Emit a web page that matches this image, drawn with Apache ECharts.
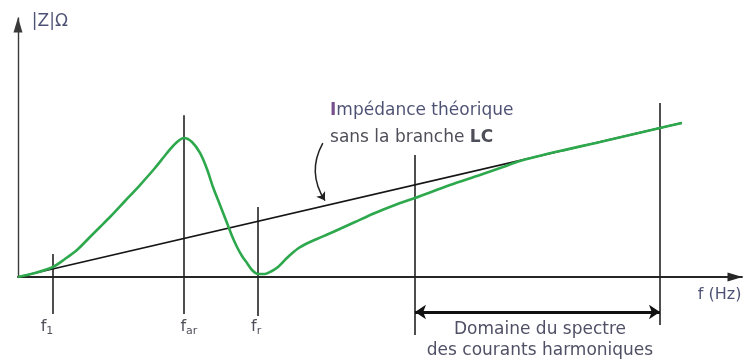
<!DOCTYPE html>
<html>
<head>
<meta charset="utf-8">
<script src="https://cdn.jsdelivr.net/npm/echarts@6/dist/echarts.min.js"></script>
<style>
  html, body { margin: 0; padding: 0; background: #fff; }
  #chart { width: 743px; height: 360px; }
</style>
</head>
<body>
<div id="chart"></div>
<script>
// |Z| against frequency, both in relative units (0–100)

// Impedance with the LC branch (green curve)
const freq = [0, 2.35, 4.83, 6.49, 8.15, 9.94, 11.33, 12.71, 14.78, 16.85, 18.92, 20.58, 21.82, 22.93, 24.03, 25.14, 26.10, 26.93, 27.90, 28.87, 29.56, 30.25, 30.94, 31.63, 32.32, 33.15, 34.12, 35.08, 35.91, 36.60, 37.29, 37.98, 38.67, 39.36, 40.33, 41.44, 43.51, 46.55, 49.31, 52.07, 54.83, 59.67, 63.81, 66.99, 69.34, 74.86, 80.39, 84.53, 88.67, 91.71];
const impedanceLC = [0, 1.54, 3.86, 6.95, 10.42, 15.44, 19.31, 23.17, 29.34, 35.52, 42.08, 47.88, 51.74, 53.67, 52.12, 47.88, 41.70, 34.75, 27.80, 20.85, 15.83, 11.58, 8.11, 5.41, 2.70, 1.16, 1.16, 2.32, 3.86, 5.79, 7.72, 9.46, 11.00, 12.16, 13.51, 14.86, 17.37, 21.24, 24.71, 27.80, 30.50, 35.52, 39.38, 42.47, 44.79, 48.65, 52.12, 54.83, 57.53, 59.46];

// Theoretical impedance without the LC branch (straight line)
const theoryFreq = [0, 91.7];
const theoryImpedance = [0, 59.5];

// Marker frequencies: f1, far, fr, then the harmonic spectrum limits
const markerFreq = [4.83, 22.93, 33.15, 54.83, 88.67];
const markerTop = [8.9, 62.5, 27.0, 47.1, 67.2];
const markerBottom = [-14.3, -14.3, -15.1, -22.4, -18.5];

// Frequency names written under the axis
const freqNames = ['{f|f}{s|1}', '{f|f}{s|ar}', '{f|f}{s|r}'];
const freqNamePos = [4.0, 23.6, 32.9];
const freqNameLevel = -19.3;

// Harmonic spectrum range (double arrow)
const spectrumRange = [54.83, 88.67];
const spectrumLevel = -13.5;

const FONT = 'DejaVu Sans';
const INK = '#222230';
const NAVY = '#1f2550';

const chart = echarts.init(document.getElementById('chart'), null, { renderer: 'canvas' });

const texts = [
  {
    value: [4.4, 98.5],
    label: { formatter: '|Z|Ω', fontSize: 17, color: NAVY, position: 'inside' }
  },
  {
    value: [96.9, -6.9],
    label: { formatter: 'f (Hz)', fontSize: 16, color: NAVY, position: 'inside' }
  },
  {
    value: [43.1, 58.9],
    label: {
      position: 'right', distance: 0, align: 'left', lineHeight: 27,
      formatter: '{p|I}{a|mpédance théorique}\n{n|sans la branche }{b|LC}',
      rich: {
        p: { fontFamily: FONT, fontSize: 17, fontWeight: 'bold', color: '#55236f', lineHeight: 27 },
        a: { fontFamily: FONT, fontSize: 17, color: NAVY, lineHeight: 27 },
        n: { fontFamily: FONT, fontSize: 17, color: INK, lineHeight: 27 },
        b: { fontFamily: FONT, fontSize: 17, fontWeight: 'bold', color: INK, lineHeight: 27 }
      }
    }
  },
  {
    value: [72.1, -24.5],
    label: {
      position: 'inside', align: 'center', lineHeight: 21,
      formatter: 'Domaine du spectre\ndes courants harmoniques',
      fontSize: 17, color: '#23233f'
    }
  }
];

const freqLabels = freqNames.map((f, i) => ({
  value: [freqNamePos[i], freqNameLevel],
  label: {
    position: 'inside',
    formatter: f,
    rich: {
      f: { fontFamily: FONT, fontSize: 16, color: INK },
      s: { fontFamily: FONT, fontSize: 11, color: INK, padding: [8, 0, 0, 0] }
    }
  }
}));

const option = {
  animation: false,
  backgroundColor: '#fff',
  textStyle: { fontFamily: FONT },
  grid: { left: 18, right: 1, top: 18, bottom: 83 },
  xAxis: {
    type: 'value', min: 0, max: 100,
    axisLine: {
      show: true, onZero: false,
      symbol: ['none', 'triangle'], symbolSize: [9, 15], symbolOffset: [0, -7],
      lineStyle: { color: '#262626', width: 1.8 }
    },
    axisTick: { show: false }, axisLabel: { show: false }, splitLine: { show: false }
  },
  yAxis: {
    type: 'value', min: 0, max: 100,
    axisLine: {
      show: true, onZero: false,
      symbol: ['none', 'triangle'], symbolSize: [9, 15], symbolOffset: [0, -7],
      lineStyle: { color: '#3a3a3a', width: 1.4 }
    },
    axisTick: { show: false }, axisLabel: { show: false }, splitLine: { show: false }
  },
  series: [
    {
      name: 'markers', type: 'lines', coordinateSystem: 'cartesian2d', clip: false,
      silent: true, symbol: 'none',
      lineStyle: { color: '#222', width: 1.6, opacity: 1 },
      data: markerFreq.map((f, i) => ({ coords: [[f, markerBottom[i]], [f, markerTop[i]]] }))
    },
    {
      name: 'theorique', type: 'line', clip: false, symbol: 'none',
      lineStyle: { color: '#151515', width: 1.7 },
      data: theoryFreq.map((f, i) => [f, theoryImpedance[i]])
    },
    {
      name: 'avec LC', type: 'line', clip: false, symbol: 'none', smooth: 0.3,
      lineStyle: { color: '#2ea84c', width: 2.6 },
      data: freq.map((f, i) => [f, impedanceLC[i]])
    },
    {
      name: 'spectre', type: 'lines', coordinateSystem: 'cartesian2d', clip: false,
      silent: true, symbol: ['arrow', 'arrow'], symbolSize: 11,
      lineStyle: { color: '#111', width: 3, opacity: 1 },
      data: [{ coords: [[spectrumRange[0], spectrumLevel], [spectrumRange[1], spectrumLevel]] }]
    },
    {
      name: 'renvoi', type: 'lines', coordinateSystem: 'cartesian2d', clip: false,
      silent: true, symbol: ['none', 'arrow'], symbolSize: 8,
      lineStyle: { color: '#222', width: 1.5, opacity: 1, curveness: -0.3 },
      data: [{ coords: [[42.1, 51.7], [42.4, 29.5]] }]
    },
    {
      name: 'textes', type: 'scatter', clip: false, silent: true, symbolSize: 0,
      label: { show: true, fontFamily: FONT },
      data: texts.concat(freqLabels)
    }
  ]
};

chart.setOption(option);
</script>
</body>
</html>
